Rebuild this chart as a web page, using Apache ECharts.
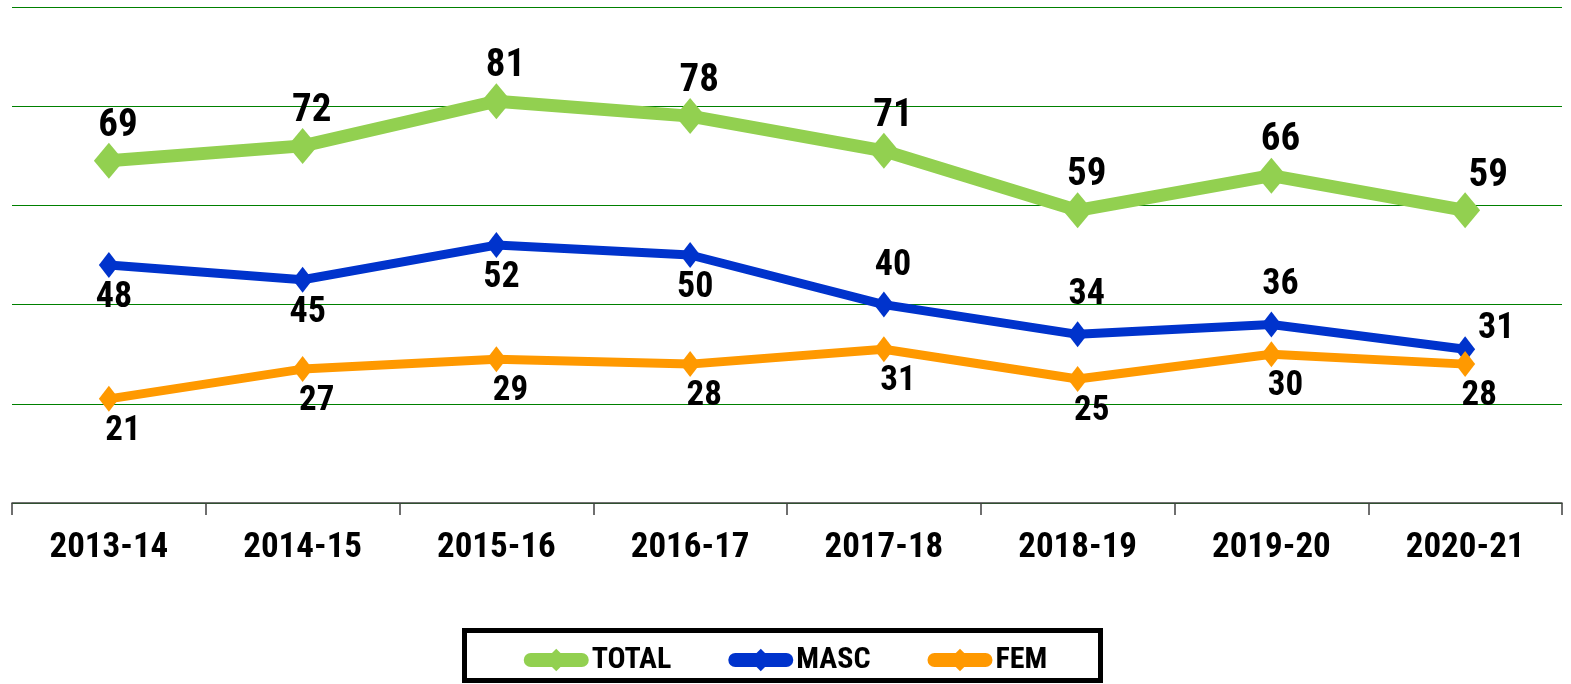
<!DOCTYPE html>
<html>
<head>
<meta charset="utf-8">
<script src="https://cdn.jsdelivr.net/npm/echarts@6/dist/echarts.min.js"></script>
<style>
html,body{margin:0;padding:0;background:#fff;}
#chart{width:1571px;height:684px;}
</style>
</head>
<body>
<div id="chart"></div>
<script>
var years = ['2013-14','2014-15','2015-16','2016-17','2017-18','2018-19','2019-20','2020-21'];
var total = [69,72,81,78,71,59,66,59];
var masc = [48,45,52,50,40,34,36,31];
var fem = [21,27,29,28,31,25,30,28];

// where each value label sits relative to its marker (style only)
var totalSide = ['up','up','up','up','up','up','up','right'];
var mascSide = ['down','down','down','down','up','up','up','right'];
var femSide = ['down','down','down','down','down','down','down','down'];

var FONT = '"Roboto Condensed","Open Sans Condensed","DejaVu Sans Condensed",sans-serif';

function withLabels(values, sides, offs, size){
	var out = [];
	for(var i=0;i<values.length;i++){
		out.push({
			value: values[i],
			label: { offset: offs[sides[i]], fontSize: size }
		});
	}
	return out;
}

var chart = echarts.init(document.getElementById('chart'));
chart.setOption({
	animation:false,
	textStyle:{ fontFamily: FONT },
	grid:{ left:12, right:9, top:7, bottom:181 },
	legend:{
		left:'center',
		top:640,
		itemWidth:51,
		itemHeight:28,
		itemGap:57,
		lineStyle:{ width:14, cap:'round' },
		textStyle:{ fontFamily:FONT, fontWeight:'bold', fontSize:30, color:'#000', padding:[0,0,0,5] },
		data:['TOTAL','MASC','FEM']
	},
	graphic:[{
		type:'rect',
		shape:{ x:464.5, y:630.5, width:636, height:50 },
		style:{ fill:'none', stroke:'#000', lineWidth:5 },
		z:-1
	}],
	xAxis:{
		type:'category',
		data:years,
		axisLine:{ lineStyle:{ color:'#404040', width:1.5 } },
		axisTick:{ show:true, length:12, lineStyle:{ color:'#404040', width:1.5 } },
		axisLabel:{ color:'#000', fontFamily:FONT, fontWeight:'bold', fontSize:35, margin:28 }
	},
	yAxis:{
		type:'value',
		min:0,
		max:100,
		interval:20,
		axisLabel:{ show:false },
		axisLine:{ show:false },
		axisTick:{ show:false },
		splitLine:{ lineStyle:{ color:'#008000', width:1.2 } }
	},
	series:[
		{
			name:'TOTAL',
			type:'line',
			symbol:'diamond',
			symbolSize:[30,36],
			lineStyle:{ color:'#92D050', width:13 },
			itemStyle:{ color:'#92D050' },
			label:{ show:true, position:'inside', color:'#000', fontFamily:FONT, fontWeight:'bold' },
			data: withLabels(total, totalSide, { up:[9,-35], right:[23,-34] }, 39),
			z:3
		},
		{
			name:'MASC',
			type:'line',
			symbol:'diamond',
			symbolSize:[20,26],
			lineStyle:{ color:'#0033CC', width:9 },
			itemStyle:{ color:'#0033CC' },
			label:{ show:true, position:'inside', color:'#000', fontFamily:FONT, fontWeight:'bold' },
			data: withLabels(masc, mascSide, { down:[5,33], up:[9,-39], right:[31,-20] }, 36),
			z:2
		},
		{
			name:'FEM',
			type:'line',
			symbol:'diamond',
			symbolSize:[20,26],
			lineStyle:{ color:'#FF9900', width:9 },
			itemStyle:{ color:'#FF9900' },
			label:{ show:true, position:'inside', color:'#000', fontFamily:FONT, fontWeight:'bold' },
			data: withLabels(fem, femSide, { down:[14,32] }, 35),
			z:2
		}
	]
});
</script>
</body>
</html>
